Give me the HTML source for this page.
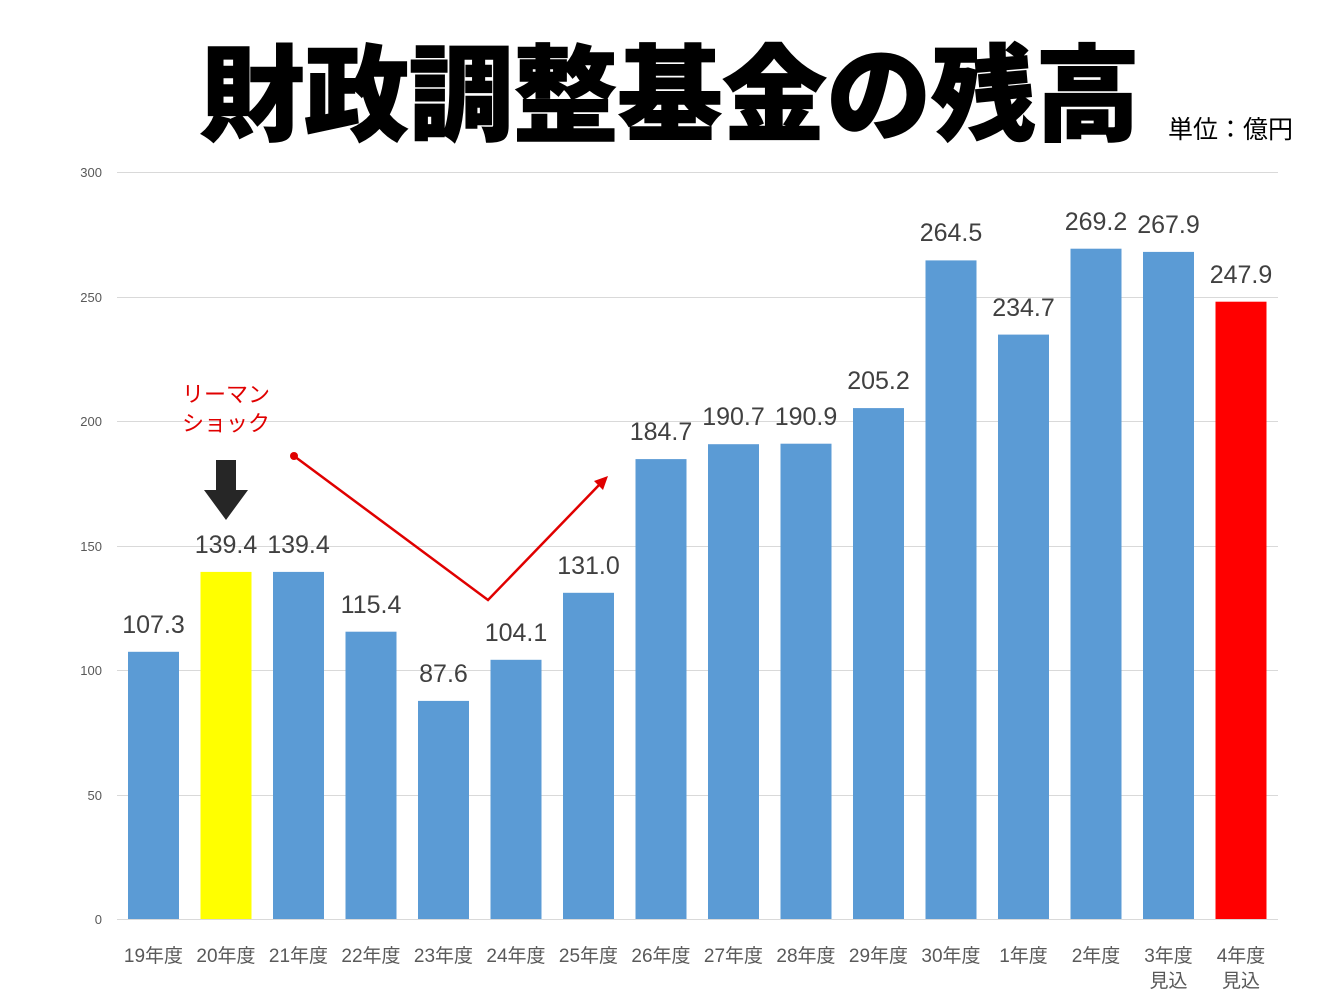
<!DOCTYPE html>
<html><head><meta charset="utf-8"><style>
html,body{margin:0;padding:0;background:#fff;}
svg{display:block;}
</style></head><body>
<svg width="1344" height="1008" viewBox="0 0 1344 1008" xmlns="http://www.w3.org/2000/svg" font-family="'Liberation Sans','Noto Sans CJK JP',sans-serif">
<text x="670" y="132" text-anchor="middle" font-size="104" font-weight="900" fill="#000" stroke="#000" stroke-width="1.5" textLength="940" lengthAdjust="spacingAndGlyphs">財政調整基金の残高</text>
<text x="1168" y="138" font-size="25" fill="#000">単位：億円</text>
<g stroke="#d9d9d9" stroke-width="1">
<line x1="117" y1="172.5" x2="1278" y2="172.5"/>
<line x1="117" y1="297.5" x2="1278" y2="297.5"/>
<line x1="117" y1="421.5" x2="1278" y2="421.5"/>
<line x1="117" y1="546.5" x2="1278" y2="546.5"/>
<line x1="117" y1="670.5" x2="1278" y2="670.5"/>
<line x1="117" y1="795.5" x2="1278" y2="795.5"/>
<line x1="117" y1="919.5" x2="1278" y2="919.5"/>
</g>
<g font-size="13" fill="#595959" text-anchor="end">
<text x="102" y="177">300</text><text x="102" y="302">250</text><text x="102" y="426">200</text>
<text x="102" y="551">150</text><text x="102" y="675">100</text><text x="102" y="800">50</text><text x="102" y="924">0</text>
</g>
<g fill="#5b9bd5">
<rect x="128" y="651.8" width="51" height="267.2"/>
<rect x="200.5" y="571.9" width="51" height="347.1" fill="#ffff00"/>
<rect x="273" y="571.9" width="51" height="347.1"/>
<rect x="345.5" y="631.7" width="51" height="287.3"/>
<rect x="418" y="700.9" width="51" height="218.1"/>
<rect x="490.5" y="659.8" width="51" height="259.2"/>
<rect x="563" y="592.8" width="51" height="326.2"/>
<rect x="635.5" y="459.1" width="51" height="459.9"/>
<rect x="708" y="444.2" width="51" height="474.8"/>
<rect x="780.5" y="443.7" width="51" height="475.3"/>
<rect x="853" y="408.1" width="51" height="510.9"/>
<rect x="925.5" y="260.4" width="51" height="658.6"/>
<rect x="998" y="334.6" width="51" height="584.4"/>
<rect x="1070.5" y="248.7" width="51" height="670.3"/>
<rect x="1143" y="251.9" width="51" height="667.1"/>
<rect x="1215.5" y="301.7" width="51" height="617.3" fill="#ff0000"/>
</g>
<g font-size="25" fill="#404040" text-anchor="middle">
<text x="153.5" y="633">107.3</text>
<text x="226" y="553">139.4</text>
<text x="298.5" y="553">139.4</text>
<text x="371" y="613">115.4</text>
<text x="443.5" y="682">87.6</text>
<text x="516" y="641">104.1</text>
<text x="588.5" y="574">131.0</text>
<text x="661" y="440">184.7</text>
<text x="733.5" y="425">190.7</text>
<text x="806" y="425">190.9</text>
<text x="878.5" y="389">205.2</text>
<text x="951" y="241">264.5</text>
<text x="1023.5" y="316">234.7</text>
<text x="1096" y="230">269.2</text>
<text x="1168.5" y="233">267.9</text>
<text x="1241" y="283">247.9</text>
</g>
<g font-size="19" fill="#595959" text-anchor="middle">
<text x="153.5" y="962">19年度</text>
<text x="226" y="962">20年度</text>
<text x="298.5" y="962">21年度</text>
<text x="371" y="962">22年度</text>
<text x="443.5" y="962">23年度</text>
<text x="516" y="962">24年度</text>
<text x="588.5" y="962">25年度</text>
<text x="661" y="962">26年度</text>
<text x="733.5" y="962">27年度</text>
<text x="806" y="962">28年度</text>
<text x="878.5" y="962">29年度</text>
<text x="951" y="962">30年度</text>
<text x="1023.5" y="962">1年度</text>
<text x="1096" y="962">2年度</text>
<text x="1168.5" y="962">3年度</text>
<text x="1241" y="962">4年度</text>
<text x="1168.5" y="987">見込</text>
<text x="1241" y="987">見込</text>
</g>
<text x="226" y="402" font-size="22" fill="#e00000" text-anchor="middle">リーマン</text>
<text x="226" y="431" font-size="22" fill="#e00000" text-anchor="middle">ショック</text>
<polygon points="216,460 236,460 236,490 248,490 226,520 204,490 216,490" fill="#262626"/>
<circle cx="294" cy="456" r="4" fill="#e00000"/>
<polyline points="294,456 488,600 600,484" fill="none" stroke="#e00000" stroke-width="2.5"/>
<polygon points="608,476 594,481 603,490" fill="#e00000"/>
</svg>
</body></html>
